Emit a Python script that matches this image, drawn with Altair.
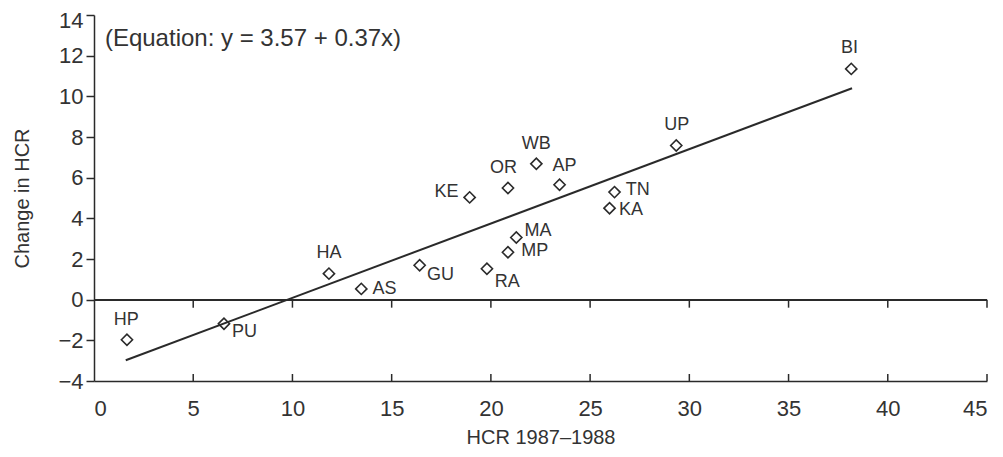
import altair as alt
import pandas as pd

# State codes and values
states = ["HP", "PU", "HA", "AS", "GU", "RA", "MP", "MA", "KE", "OR", "WB", "AP", "TN", "KA", "UP", "BI"]
hcr_1987 = [1.66, 6.55, 11.84, 13.47, 16.41, 19.80, 20.86, 21.28, 18.93, 20.86, 22.29, 23.46, 26.23, 25.98, 29.34, 38.16]
change_hcr = [-1.97, -1.18, 1.28, 0.53, 1.69, 1.52, 2.33, 3.06, 5.03, 5.49, 6.68, 5.65, 5.29, 4.50, 7.58, 11.35]

# label anchors (data units) and alignment
label_x = [1.63, 6.95, 11.84, 14.03, 16.78, 20.19, 21.53, 21.70, 18.37, 20.64, 22.29, 23.71, 26.79, 26.45, 29.37, 38.07]
label_y = [-0.98, -1.57, 2.29, 0.53, 1.23, 0.85, 2.41, 3.39, 5.29, 6.47, 7.65, 6.55, 5.41, 4.39, 8.60, 12.37]
label_align = ["center", "left", "center", "left", "left", "left", "left", "left", "right",
               "center", "center", "center", "left", "left", "center", "center"]

# fitted line end points
fit_x = [1.6, 38.2]
fit_y = [-2.98, 10.40]

x_ticks = [5, 10, 15, 20, 25, 30, 35, 40, 45]
y_ticks = [-4, -2, 0, 2, 4, 6, 8, 10, 12, 14]

equation_text = "(Equation: y = 3.57 + 0.37x)"
eq_x = [0.55]
eq_y = [12.83]

INK = "#2a2a2a"
TXT = "#333333"

df = pd.DataFrame({"state": states, "x": hcr_1987, "y": change_hcr,
                   "lx": label_x, "ly": label_y, "al": label_align})
fit_df = pd.DataFrame({"x": fit_x, "y": fit_y})
tick_df = pd.DataFrame({"t": x_ticks})
eq_df = pd.DataFrame({"x": eq_x, "y": eq_y, "txt": [equation_text]})

xscale = alt.Scale(domain=[0, 45], nice=False, zero=False)
yscale = alt.Scale(domain=[-4, 14], nice=False, zero=False)

x_axis = alt.Axis(values=list(range(0, 50, 5)), ticks=False, labelPadding=17, title="HCR 1987–1988",
                  titlePadding=8, grid=False, domainColor=INK, domainWidth=1.5)
y_axis = alt.Axis(values=y_ticks, tickSize=8, grid=False, domainColor=INK, tickColor=INK,
                  domainWidth=1.5, tickWidth=1.5, labelPadding=3, title="Change in HCR", titlePadding=25,
                  labelOffset={"condition": {"test": "datum.value == 14", "value": 5}, "value": 0})

base = alt.Chart(df)

points = base.mark_point(shape="diamond", filled=False, size=125, strokeWidth=1.6, color=INK, opacity=1).encode(
    x=alt.X("x:Q", scale=xscale, axis=x_axis),
    y=alt.Y("y:Q", scale=yscale, axis=y_axis),
)

labels = []
for a in ["left", "center", "right"]:
    labels.append(
        base.transform_filter(alt.datum.al == a).mark_text(
            align=a, baseline="middle", fontSize=18, color=TXT, font="Liberation Sans"
        ).encode(x=alt.X("lx:Q", scale=xscale), y=alt.Y("ly:Q", scale=yscale), text="state:N")
    )

fit = alt.Chart(fit_df).mark_line(color=INK, strokeWidth=2).encode(
    x=alt.X("x:Q", scale=xscale), y=alt.Y("y:Q", scale=yscale)
)

zero_line = alt.Chart(tick_df).mark_rule(color=INK, strokeWidth=1.5).encode(
    y=alt.datum(0, scale=yscale)
)

zero_ticks = alt.Chart(tick_df).mark_tick(orient="vertical", size=8, thickness=1.5, yOffset=4, color=INK, opacity=1).encode(
    x=alt.X("t:Q", scale=xscale), y=alt.datum(0, scale=yscale)
)

bottom_ticks = alt.Chart(tick_df).mark_tick(orient="vertical", size=7, thickness=1.5, yOffset=-3.5, color=INK, opacity=1).encode(
    x=alt.X("t:Q", scale=xscale), y=alt.datum(-4, scale=yscale)
)

equation = alt.Chart(eq_df).mark_text(align="left", baseline="middle", fontSize=24, color=TXT,
                                      font="Liberation Sans").encode(
    x=alt.X("x:Q", scale=xscale), y=alt.Y("y:Q", scale=yscale), text="txt:N"
)

chart = alt.layer(zero_line, zero_ticks, bottom_ticks, fit, points, *labels, equation).properties(
    width=893, height=366,
    autosize=alt.AutoSizeParams(type="none"),
    padding={"left": 86, "top": 7, "right": 8, "bottom": 70},
).configure_view(stroke=None).configure_axis(
    labelFont="Liberation Sans", titleFont="Liberation Sans", labelFontSize=22, titleFontSize=20,
    labelColor=TXT, titleColor=TXT, titleFontWeight="normal"
)

chart.save("out.html", embed_options={"renderer": "svg", "actions": False})
